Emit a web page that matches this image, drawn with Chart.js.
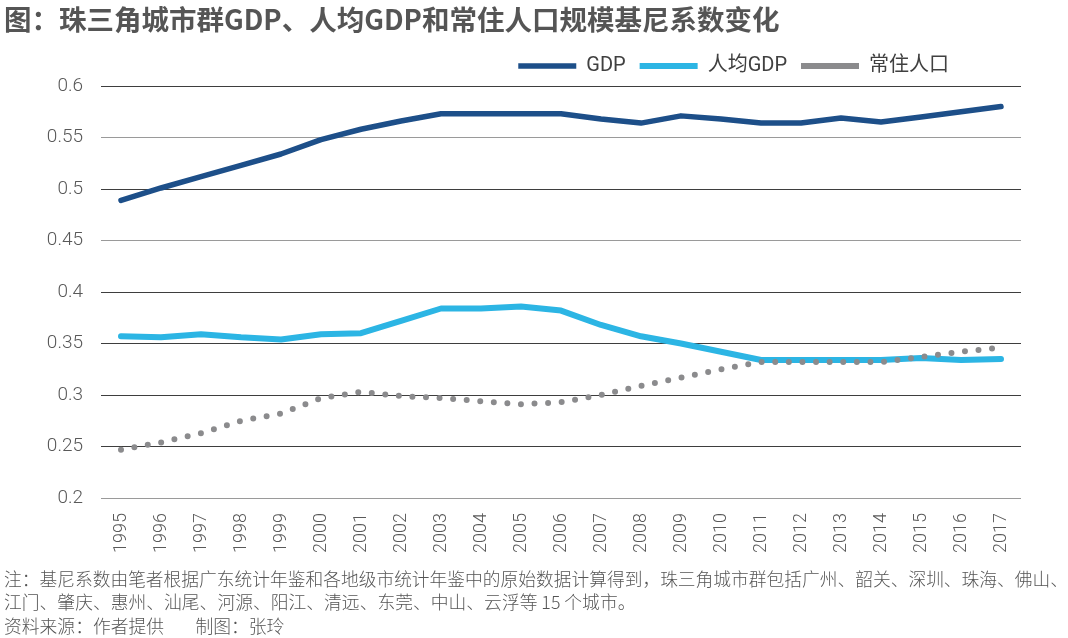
<!DOCTYPE html>
<html>
<head>
<meta charset="utf-8">
<script src="https://cdn.jsdelivr.net/npm/chart.js@4"></script>
<style>
  body { margin: 0; background: #fff; }
  #wrap { width: 1068px; height: 638px; }
</style>
</head>
<body>
<div id="wrap"><canvas id="myChart" width="1068" height="638"></canvas></div>
<script>
const years = ["1995", "1996", "1997", "1998", "1999", "2000", "2001", "2002", "2003", "2004", "2005", "2006",
  "2007", "2008", "2009", "2010", "2011", "2012", "2013", "2014", "2015", "2016", "2017"];
const gdp = [0.489, 0.501, 0.512, 0.523, 0.534, 0.548, 0.558, 0.566, 0.573, 0.573, 0.573, 0.573,
  0.568, 0.564, 0.571, 0.568, 0.564, 0.564, 0.569, 0.565, 0.570, 0.575, 0.580];
const perCapita = [0.357, 0.356, 0.359, 0.356, 0.354, 0.359, 0.360, 0.372, 0.384, 0.384, 0.386, 0.382,
  0.368, 0.357, 0.350, 0.342, 0.334, 0.334, 0.334, 0.334, 0.336, 0.334, 0.335];
const population = [0.247, 0.254, 0.263, 0.275, 0.282, 0.297, 0.303, 0.299, 0.297, 0.294, 0.291, 0.293,
  0.300, 0.309, 0.317, 0.325, 0.332, 0.332, 0.332, 0.332, 0.337, 0.342, 0.346];
const seriesNames = ["GDP", "人均GDP", "常住人口"];
const yTicks = [0.2, 0.25, 0.3, 0.35, 0.4, 0.45, 0.5, 0.55, 0.6];

const titleText = "图：珠三角城市群GDP、人均GDP和常住人口规模基尼系数变化";
const noteLines = [
  "注：基尼系数由笔者根据广东统计年鉴和各地级市统计年鉴中的原始数据计算得到，珠三角城市群包括广州、韶关、深圳、珠海、佛山、",
  "江门、肇庆、惠州、汕尾、河源、阳江、清远、东莞、中山、云浮等 15 个城市。",
  "资料来源：作者提供        制图：张玲",
];

const cjk = "'Noto Sans CJK SC', sans-serif";
const latin = "Roboto, 'Noto Sans CJK SC', sans-serif";

// push the legend left so it ends where the original one does
const legendShift = {
  id: "legendShift",
  afterLayout(chart) {
    chart.legend.right -= 105;
  },
};

const contexto = document.getElementById("myChart").getContext("2d");
const myChart = new Chart(contexto, {
  type: "line",
  data: {
    labels: years,
    datasets: [
      {
        label: seriesNames[0],
        data: gdp,
        borderColor: "#1d4f89",
        backgroundColor: "#1d4f89",
        borderWidth: 5.5,
        borderCapStyle: "round",
        borderJoinStyle: "round",
        pointRadius: 0,
        order: 2,
      },
      {
        label: seriesNames[1],
        data: perCapita,
        borderColor: "#2cb5e4",
        backgroundColor: "#2cb5e4",
        borderWidth: 6,
        borderCapStyle: "round",
        borderJoinStyle: "round",
        pointRadius: 0,
        order: 1,
      },
      {
        label: seriesNames[2],
        data: population,
        borderColor: "#8b8b8d",
        backgroundColor: "#8b8b8d",
        borderWidth: 6,
        borderDash: [0, 13.6],
        borderCapStyle: "round",
        borderJoinStyle: "round",
        pointRadius: 0,
        order: 0,
      },
    ],
  },
  options: {
    responsive: false,
    animation: false,
    layout: { padding: { left: 4, right: 0, top: 0, bottom: 0 } },
    plugins: {
      title: {
        display: true,
        text: titleText,
        align: "start",
        color: "#555555",
        font: { family: cjk, size: 27.5, weight: "bold", lineHeight: 1.2 },
        padding: { top: 3, bottom: 6 },
      },
      legend: {
        display: true,
        position: "top",
        align: "end",
        labels: {
          usePointStyle: true,
          pointStyle: "line",
          pointStyleWidth: 58,
          boxHeight: 20,
          padding: 14,
          color: "#404040",
          font: { family: latin, size: 20 },
          sort: (a, b) => a.datasetIndex - b.datasetIndex,
        },
      },
      subtitle: {
        display: true,
        position: "bottom",
        align: "start",
        text: noteLines,
        color: "#555555",
        font: { family: cjk, size: 17.8, weight: "300", lineHeight: 1.33 },
        padding: { top: 7, bottom: 0 },
      },
      tooltip: { enabled: false },
    },
    scales: {
      x: {
        offset: true,
        grid: { display: false },
        border: { display: false },
        ticks: {
          autoSkip: false,
          minRotation: 90,
          maxRotation: 90,
          padding: 7,
          color: "#595959",
          font: { family: latin, size: 18, weight: "300" },
        },
      },
      y: {
        min: yTicks[0],
        max: yTicks[yTicks.length - 1],
        afterFit(scale) { scale.width = 97; },
        afterBuildTicks(scale) { scale.ticks = yTicks.map((v) => ({ value: v })); },
        border: { display: false },
        grid: {
          drawTicks: false,
          lineWidth: 1,
          color: (c) => ([0.55, 0.45, 0.2].includes(c.tick && c.tick.value) ? "#9a9a9a" : "#3e3e3e"),
        },
        ticks: {
          padding: 18,
          color: "#595959",
          font: { family: latin, size: 19, weight: "300" },
          callback: (v) => String(+Number(v).toFixed(2)),
        },
      },
      yRight: {
        position: "right",
        display: true,
        afterFit(scale) { scale.width = 47; },
        grid: { display: false },
        border: { display: false },
        ticks: { display: false },
      },
    },
  },
  plugins: [legendShift],
});
</script>
</body>
</html>
